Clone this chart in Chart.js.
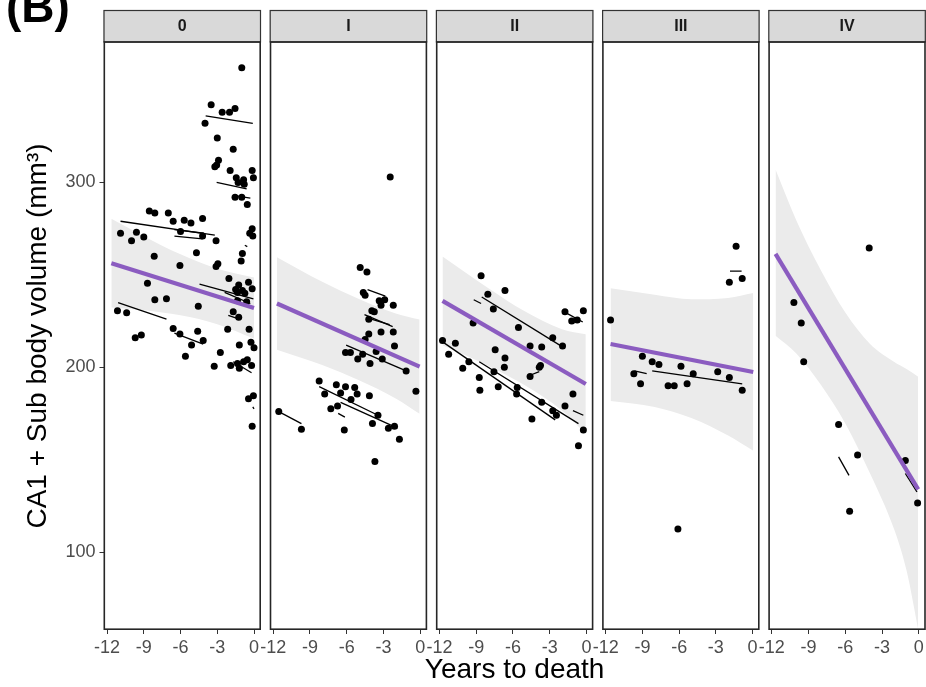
<!DOCTYPE html>
<html><head><meta charset="utf-8">
<script src="https://cdn.jsdelivr.net/npm/chart.js@4.4.1/dist/chart.umd.min.js"></script>
<style>
html,body{margin:0;padding:0;background:#fff;}
#wrap{position:relative;width:926px;height:687px;overflow:hidden;background:#fff;}
#wrap canvas{position:absolute;left:0;top:0;}
</style></head><body><div id="wrap"></div>
<script>
// ---------- DATA ----------
const stages = ['0', 'I', 'II', 'III', 'IV'];
const xTicks = [-12, -9, -6, -3, 0];
const yTicks = [100, 200, 300];
const xTitle = 'Years to death';
const yTitle = 'CA1 + Sub body volume (mm³)';

// Stage 0
const points0 = [
[-1.0,362],[-3.5,342],[-2.6,338],[-2.0,338],[-1.55,340],[-4.0,332],[-3.0,324],[-1.7,318],
[-2.9,312],[-3.05,309.5],[-3.2,308.5],[-1.95,306.5],[-1.45,302.5],[-0.85,301.5],[-1.3,300],[-0.8,299],
[-0.15,306.5],[-0.05,302.5],[-1.55,292],[-1.0,292],[-0.55,288],
[-8.55,284.5],[-8.1,283.5],[-7.0,283.5],[-6.6,279],[-5.7,279.5],[-5.15,278],[-4.2,280.5],
[-10.9,272.5],[-9.6,273],[-9.0,270.5],[-6.0,273.5],[-0.35,272.5],[-0.15,275],[-0.1,271],
[-10.0,268.5],[-8.15,260],[-6.05,255],[-4.7,262],[-3.1,268.5],[-3.1,254.5],[-2.95,256],[-4.2,271],
[-0.95,261.5],[-1.05,257.5],
[-8.7,245.5],[-8.1,236.5],[-7.15,237],[-4.55,233],[-2.05,248],
[-1.25,244.5],[-1.5,242],[-1.35,240.5],[-0.95,241.5],[-0.45,246],[-0.15,242.5],[-0.75,240],
[-1.35,236],[-0.6,235.5],[-1.7,230],[-1.25,227],
[-11.15,230.5],[-10.4,229.5],[-9.7,216],[-9.2,217.5],[-6.6,221],[-6.05,218],[-4.6,219.5],[-4.15,214.5],
[-5.1,212],[-5.6,206],[-2.15,220.5],[-0.4,220.5],[-1.2,212],[-0.25,213.5],[0.0,210.5],
[-2.75,208],[-3.25,200.5],[-1.9,201],[-1.35,202],[-1.2,199.5],[-0.85,203],[-0.55,204],[-0.2,201],
[-0.45,183],[-0.05,184.5],[-0.15,168]
];
const segments0 = [
[-3.95,336,-0.1,332],[-3.05,300,-0.6,296.5],[-1.7,293,-0.3,291.5],[-10.9,279,-3.2,271.5],
[-6.5,274.5,-4.1,272.5],[-6.5,271,-4.2,269.5],[-4.45,245,-0.05,237],[-2.4,240.5,-0.3,234.5],
[-11.1,235,-7.15,226],[-6.5,218.5,-4.15,212.5],[-2.1,228,-1.2,226],[-1.7,203,-0.2,197],
[-0.75,266,-0.55,265.3],[-0.1,178.5,0.0,177.5]
];
const fit0 = [[-11.65,256.3],[0,232]];
const bandX0 = [-11.65,-9,-6,-3,0];
const bandUpper0 = [280.3,270.9,261.1,253.3,248.5];
const bandLower0 = [232.3,230.9,228.1,223.3,215.5];

// Stage I
const points1 = [
[-2.45,303],[-4.9,254],[-4.35,251.5],[-4.65,240.5],[-4.5,239],[-3.35,236],[-2.9,236.5],[-3.2,233.5],[-2.2,233.5],
[-3.95,230.5],[-3.75,230],[-4.2,226],[-3.2,219],[-2.2,219],[-4.2,218],[-4.5,215],[-2.1,211.5],
[-6.1,208],[-5.7,208],[-4.7,207],[-5.1,204.5],[-3.6,208.5],[-4.1,202],[-3.1,204.5],[-1.15,198],[-0.35,187],
[-8.25,192.5],[-7.8,185.5],[-6.85,190.5],[-6.1,189.5],[-5.35,189],[-6.5,186],[-5.65,182.5],[-5.15,185.5],
[-4.15,184.5],[-7.3,177.5],[-6.75,179],[-3.45,174],[-3.9,169.5],[-6.2,166],[-2.6,167],[-2.1,168],[-1.7,161],
[-3.7,149],[-11.55,176],[-9.7,166.5]
];
const segments1 = [
[-11.55,176,-9.7,169.5],[-4.3,242,-2.85,238.5],[-4.55,228.5,-2.25,222],[-4.2,226.5,-2.5,223],
[-6.05,212,-1.15,198],[-8.25,189.5,-3.45,174],[-6.5,181,-1.85,167],[-6.7,175,-6.15,173]
];
const fit1 = [[-11.7,234.5],[-0.05,200.3]];
const bandX1 = [-11.7,-8,-5,-2,-0.05];
const bandUpper1 = [259.5,246.2,236.9,229.1,225.8];
const bandLower1 = [209.5,201.2,192.9,183.1,174.8];

// Stage II
const points2 = [
[-8.6,249.5],[-8.05,239.5],[-6.65,241.5],[-7.6,231.5],[-9.25,224],[-5.55,221.5],[-4.6,211.5],[-3.65,211],
[-2.75,216],[-1.95,211.5],[-1.75,230],[-1.2,225],[-0.75,225.5],[-0.25,230.5],
[-11.75,214.5],[-10.7,213],[-11.25,207],[-9.6,203],[-10.1,199.5],[-7.45,209.5],[-6.65,205],[-6.7,200],
[-8.75,194.5],[-8.7,187.5],[-7.55,197.5],[-7.2,189.5],[-5.65,189],[-5.7,185.5],[-4.6,195],[-3.85,200],[-3.75,201],
[-3.65,181],[-2.75,176.5],[-2.45,174],[-1.75,179],[-1.1,185.5],[-4.45,172],[-0.25,166],[-0.65,157.5]
];
const segments2 = [
[-8.55,238,-1.95,211],[-9.2,236.5,-8.6,234.5],[-11.8,214,-2.55,171.5],[-8.75,203,-0.65,169.5],
[-1.55,229,-0.3,224.5],[-4.55,195.8,-3.85,197.6],[-1.1,176.5,-0.25,174]
];
const fit2 = [[-11.75,235.9],[-0.05,190.9]];
const bandX2 = [-11.75,-8,-5,-2,-0.05];
const bandUpper2 = [259.9,242.7,230.1,220.6,217.9];
const bandLower2 = [211.9,200.7,190.1,176.6,163.9];

// Stage III
const points3 = [
[-1.35,265.5],[-1.9,246],[-0.85,248],[-11.6,225.5],[-9.0,206],[-8.2,203],[-7.65,201.5],[-9.7,196.5],[-9.15,191],
[-5.85,200.5],[-6.9,190],[-6.4,190],[-5.35,191],[-4.85,196.5],[-2.85,197.5],[-1.9,194.5],[-0.85,187.5],[-6.1,112.5]
];
const segments3 = [
[-1.85,252,-0.9,252],[-9.65,198,-8.65,196.5],[-8.2,198,-0.85,191]
];
const fit3 = [[-11.6,212.6],[0.05,197.4]];
const bandX3 = [-11.6,-8,-5,-2,0.05];
const bandUpper3 = [242.7,239.2,236.8,237.5,240.2];
const bandLower3 = [181.7,178.5,172.5,163,154.8];

// Stage IV
const points4 = [
[-4.05,264.5],[-10.2,235],[-9.6,224],[-9.4,203],[-6.55,169],[-5.0,152.5],[-5.65,122],[-1.1,149.5],[-0.1,126.5]
];
const segments4 = [
[-6.55,151.5,-5.7,141.5],[-1.1,142.5,-0.15,132.5]
];
const fit4 = [[-11.7,261.3],[-0.05,133.9]];
const bandX4 = [-11.7,-10,-8,-6,-4,-2,-1,-0.05];
const bandUpper4 = [307,279.4,252.5,229.6,212.7,202.8,199,194.9];
const bandLower4 = [217,207.4,190.5,169.6,142.7,112,90,58];

// ---------- STYLE / LAYOUT ----------
const FONT = '"Liberation Sans", Arial, Helvetica, sans-serif';
const PURPLE = '#8b5cc0';
const BAND = '#ebebeb';
const X_MIN = -12.29, X_MAX = 0.57;
const Y_MIN = 57.8, Y_MAX = 376;
const PANEL_LEFT0 = 103.5, PANEL_W = 157.5, PANEL_GAP = 8.7;
const CW = 980, H = 687;

const panels = [
  {points: points0, segments: segments0, fit: fit0, bx: bandX0, bu: bandUpper0, bl: bandLower0},
  {points: points1, segments: segments1, fit: fit1, bx: bandX1, bu: bandUpper1, bl: bandLower1},
  {points: points2, segments: segments2, fit: fit2, bx: bandX2, bu: bandUpper2, bl: bandLower2},
  {points: points3, segments: segments3, fit: fit3, bx: bandX3, bu: bandUpper3, bl: bandLower3},
  {points: points4, segments: segments4, fit: fit4, bx: bandX4, bu: bandUpper4, bl: bandLower4}
];

const panelDeco = {
  id: 'panelDeco',
  beforeDraw(chart, args, opts) {
    const {ctx, chartArea: a} = chart;
    ctx.save();
    ctx.fillStyle = '#d9d9d9';
    ctx.fillRect(a.left, 10, a.right - a.left, a.top - 10);
    ctx.strokeStyle = '#333333';
    ctx.lineWidth = 1.2;
    ctx.strokeRect(a.left + 0.5, 10.5, a.right - a.left - 1, a.top - 10.5);
    ctx.fillStyle = '#1a1a1a';
    ctx.font = 'bold 16px ' + FONT;
    ctx.textAlign = 'center';
    ctx.textBaseline = 'middle';
    ctx.fillText(opts.label, (a.left + a.right) / 2, (10 + a.top) / 2 + 1);
    if (opts.tag) {
      ctx.fillStyle = '#000';
      ctx.font = 'bold 46px ' + FONT;
      ctx.textAlign = 'left';
      ctx.textBaseline = 'alphabetic';
      ctx.fillText(opts.tag, 6, 22);
    }
    if (opts.xtitle) {
      ctx.fillStyle = '#000';
      ctx.font = '28px ' + FONT;
      ctx.textAlign = 'center';
      ctx.textBaseline = 'alphabetic';
      ctx.fillText(opts.xtitle, (a.left + a.right) / 2, 678);
    }
    ctx.restore();
  },
  afterDatasetsDraw(chart) {
    const {ctx, chartArea: a} = chart;
    ctx.save();
    ctx.strokeStyle = '#262626';
    ctx.lineWidth = 1.6;
    ctx.strokeRect(a.left + 0.8, a.top, a.right - a.left - 1.6, a.bottom - a.top - 0.8);
    ctx.restore();
  }
};

function buildDatasets(p) {
  const ds = [];
  ds.push({data: p.fit.map(([x, y]) => ({x, y})), borderColor: PURPLE, borderWidth: 4.2,
           pointRadius: 0, pointHoverRadius: 0, fill: false, order: 0});
  ds.push({data: p.points.map(([x, y]) => ({x, y})), showLine: false, pointRadius: 3.5,
           pointHoverRadius: 3.5, pointBackgroundColor: '#000', pointBorderColor: '#000',
           pointBorderWidth: 0, order: 1});
  p.segments.forEach(s => ds.push({data: [{x: s[0], y: s[1]}, {x: s[2], y: s[3]}], borderColor: '#000',
           borderWidth: 1.3, pointRadius: 0, pointHoverRadius: 0, fill: false, order: 2}));
  ds.push({data: p.bx.map((x, i) => ({x, y: p.bu[i]})), borderColor: 'rgba(0,0,0,0)', borderWidth: 0,
           pointRadius: 0, pointHoverRadius: 0, fill: '+1', backgroundColor: BAND,
           cubicInterpolationMode: 'monotone', order: 3});
  ds.push({data: p.bx.map((x, i) => ({x, y: p.bl[i]})), borderColor: 'rgba(0,0,0,0)', borderWidth: 0,
           pointRadius: 0, pointHoverRadius: 0, fill: false,
           cubicInterpolationMode: 'monotone', order: 3});
  return ds;
}

const wrap = document.getElementById('wrap');
panels.forEach((p, i) => {
  const left = PANEL_LEFT0 + i * (PANEL_W + PANEL_GAP);
  const right = left + PANEL_W;
  const c = document.createElement('canvas');
  c.width = CW; c.height = H;
  c.style.width = CW + 'px'; c.style.height = H + 'px';
  wrap.appendChild(c);
  new Chart(c, {
    type: 'line',
    data: {datasets: buildDatasets(p)},
    plugins: [panelDeco],
    options: {
      responsive: false,
      animation: false,
      devicePixelRatio: 1,
      events: [],
      layout: {padding: {left: i === 0 ? 0 : left, right: CW - right, top: 42, bottom: 0}},
      plugins: {
        legend: {display: false},
        tooltip: {enabled: false},
        panelDeco: {label: stages[i], tag: i === 0 ? '(B)' : null, xtitle: i === 2 ? xTitle : null}
      },
      scales: {
        x: {
          type: 'linear', min: X_MIN, max: X_MAX,
          afterBuildTicks: s => { s.ticks = xTicks.map(v => ({value: v})); },
          afterFit: s => { s.height = 57; },
          ticks: {font: {size: 18, family: FONT}, color: '#4d4d4d', padding: 3,
                  maxRotation: 0, autoSkip: false, callback: v => String(v)},
          grid: {display: true, drawOnChartArea: false, drawTicks: true, tickLength: 4, color: '#333333'},
          border: {display: false},
          title: {display: false}
        },
        y: {
          type: 'linear', min: Y_MIN, max: Y_MAX, display: i === 0,
          afterBuildTicks: s => { s.ticks = yTicks.map(v => ({value: v})); },
          afterFit: s => { s.width = (i === 0) ? PANEL_LEFT0 : 0; },
          ticks: {font: {size: 18, family: FONT}, color: '#4d4d4d', padding: 4, callback: v => String(v)},
          grid: {display: true, drawOnChartArea: false, drawTicks: true, tickLength: 4, color: '#333333'},
          border: {display: false},
          title: {display: i === 0, text: yTitle, color: '#000',
                  font: {size: 28, family: FONT}, padding: {top: 21, bottom: 0}}
        }
      }
    }
  });
});
</script>
</body></html>
